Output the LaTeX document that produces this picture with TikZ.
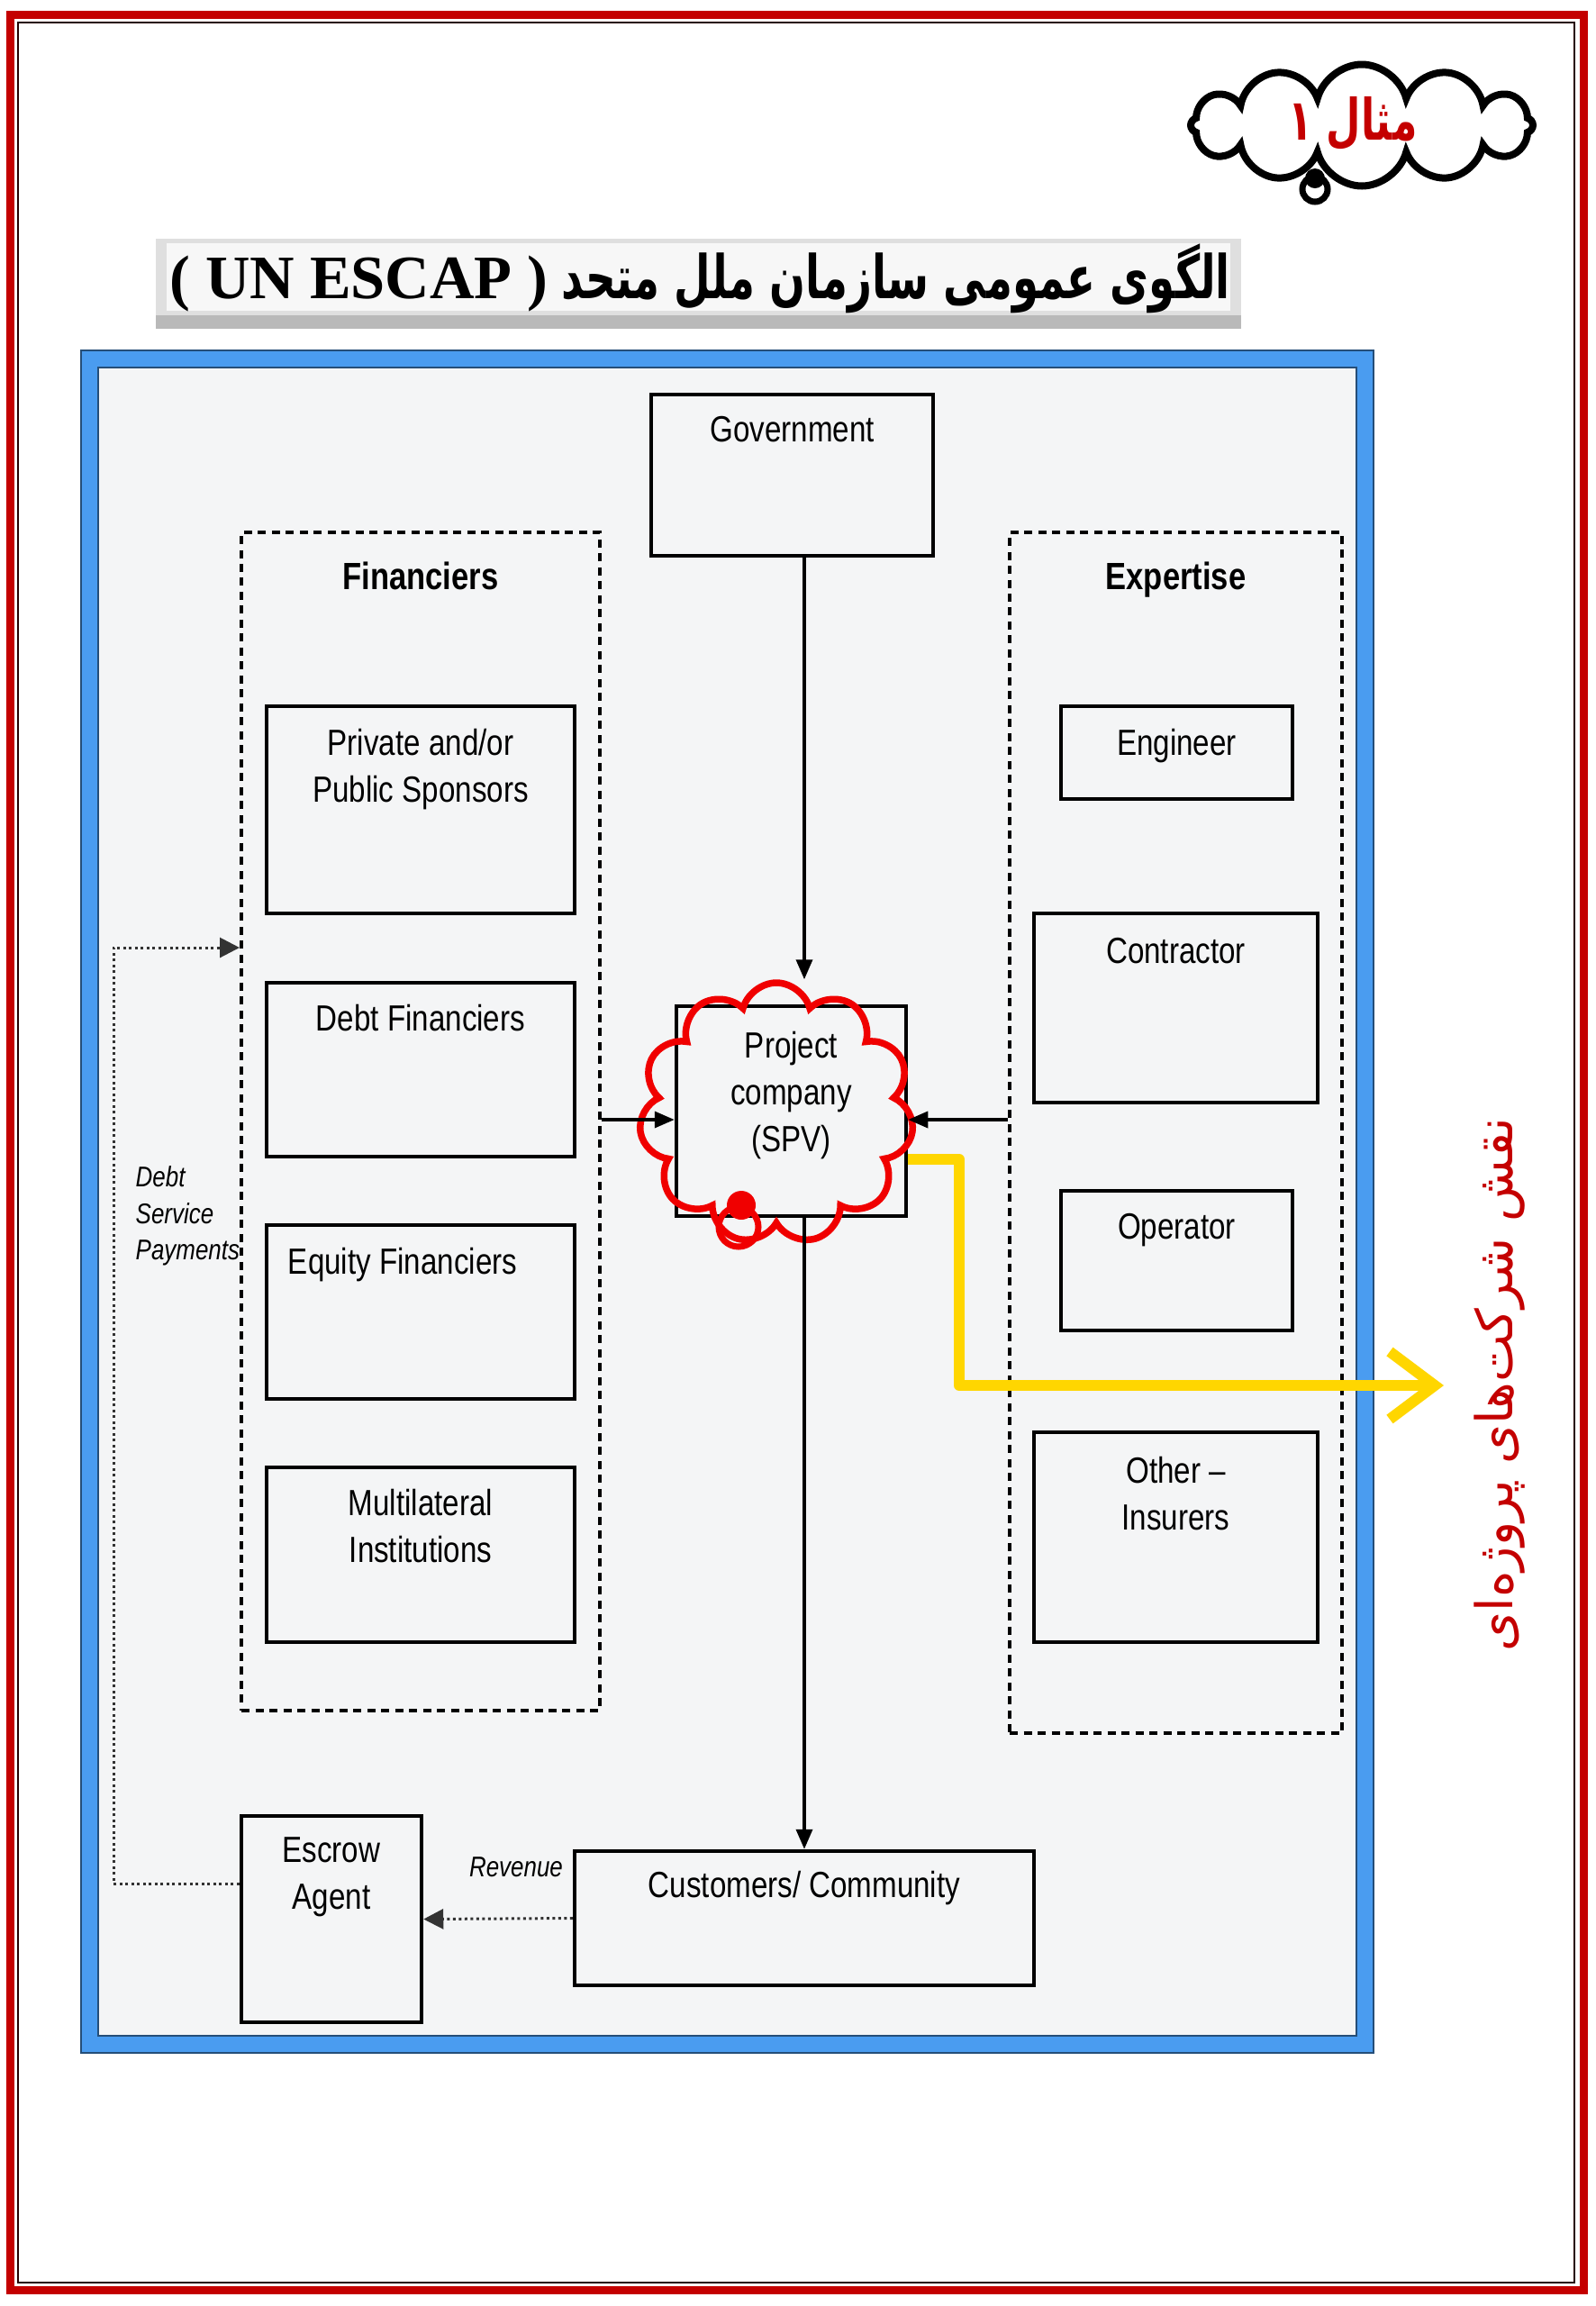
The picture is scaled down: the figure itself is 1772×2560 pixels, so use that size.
\documentclass[tikz,border=0pt]{standalone}
\usepackage{fontspec}
\setmainfont{Liberation Sans}[FakeStretch=0.82]
\newfontfamily\fafont{DejaVu Sans}[Script=Arabic]
\newfontfamily\fatitlefont{DejaVu Sans}[Script=Arabic,FakeStretch=0.7]
\newfontfamily\serifont{Liberation Serif}
\TeXXeTstate=1
\usetikzlibrary{arrows.meta,positioning,shapes.symbols}
\definecolor{framered}{RGB}{196,0,0}
\definecolor{frameblue}{RGB}{74,156,240}
\definecolor{paneltint}{RGB}{244,245,246}
\definecolor{goldline}{RGB}{255,214,0}
\definecolor{spvred}{RGB}{240,0,0}

\begin{document}
\begin{tikzpicture}[x=0.1mm,y=-0.1mm]
\tikzstyle{every node}=[inner sep=0pt, font=\fontsize{11.5}{14.8}\selectfont]
\tikzstyle{box}=[draw, line width=0.45mm]
\tikzstyle{group}=[draw, line width=0.4mm, dash pattern=on 0.9mm off 0.65mm]
\tikzstyle{head}=[font=\fontsize{12}{14}\selectfont\bfseries]
\tikzstyle{arr}=[line width=0.35mm, -{Triangle[length=2.2mm,width=1.8mm]}]
\tikzstyle{dots}=[line width=0.3mm, black!80, dash pattern=on 0.3mm off 0.35mm, -{Triangle[length=2.2mm,width=2.2mm]}]
\tikzstyle{note}=[font=\fontsize{9}{11.5}\selectfont\itshape]
\useasboundingbox (0,0) rectangle (1772,2560);
\fill[white] (0,0) rectangle (1772,2560);
\draw[framered, line width=0.9mm] (11.5,16.5) rectangle (1758,2542.5);
\draw[black!80!framered, line width=0.2mm] (20,25) rectangle (1748,2534);

\node (example) [cloud, draw, fill=white, line width=0.8mm, cloud puffs=12, aspect=2.7, minimum width=38mm, minimum height=13.5mm] at (1512,139) {};
\draw[line width=0.7mm] (1460,210) circle (1.4mm);
\fill (1460,198) circle (1.1mm);
\node (exlabel) [text=framered] at (1502,137) {\fatitlefont\bfseries\fontsize{18}{22}\selectfont\beginR مثال ۱\endR};

\fill[gray!55] (173,265) rectangle (1378,365);
\fill[gray!25] (173,265) rectangle (1378,350);
\fill[gray!6] (185,270) rectangle (1366,345);
\node (title) at (777,309) {{\serifont\bfseries\fontsize{19.5}{22}\selectfont ( UN ESCAP )}\hspace{1.5mm}{\fatitlefont\bfseries\fontsize{19}{24}\selectfont\beginR الگوی عمومی سازمان ملل متحد\endR}};

\draw[frameblue, line width=1.9mm, fill=paneltint] (99.5,398.5) rectangle (1515.5,2269.5);
\draw[frameblue!50!black, line width=0.15mm] (90,389) rectangle (1525,2279) (109,408) rectangle (1506,2260);

\node (gov) [box, minimum width=31.3mm, minimum height=17.9mm] at (879.5,527.5) {};
\node (govlabel) [below=2.6mm of gov.north] {Government};

\node (fin) [group, minimum width=39.8mm, minimum height=130.8mm] at (467,1245) {};
\node (finlabel) [head, below=3.4mm of fin.north] {Financiers};
\node (spons) [box, minimum width=34.2mm, minimum height=23mm] at (467,899) {};
\node (sponslabel) [align=center, below=2.7mm of spons.north] {Private and/or\\Public Sponsors};
\node (debt) [box, minimum width=34.2mm, minimum height=19.3mm] at (467,1187.5) {};
\node (debtlabel) [below=2.6mm of debt.north] {Debt Financiers};
\node (equity) [box, minimum width=34.2mm, minimum height=19.3mm] at (467,1456.5) {};
\node (equitylabel) [below=2.7mm of equity.north, xshift=-2mm] {Equity Financiers};
\node (multi) [box, minimum width=34.2mm, minimum height=19.4mm] at (467,1726) {};
\node (multilabel) [align=center, below=2.6mm of multi.north] {Multilateral\\Institutions};

\node (expert) [group, minimum width=36.9mm, minimum height=133.3mm] at (1305.5,1257.5) {};
\node (expertlabel) [head, below=3.4mm of expert.north] {Expertise};
\node (eng) [box, minimum width=25.7mm, minimum height=10.3mm] at (1306.5,835.5) {};
\node (englabel) [below=2.7mm of eng.north] {Engineer};
\node (contr) [box, minimum width=31.5mm, minimum height=21mm] at (1305.5,1119) {};
\node (contrlabel) [below=2.9mm of contr.north] {Contractor};
\node (oper) [box, minimum width=25.7mm, minimum height=15.5mm] at (1306.5,1399.5) {};
\node (operlabel) [below=2.7mm of oper.north] {Operator};
\node (insur) [box, minimum width=31.5mm, minimum height=23.3mm] at (1305.5,1706.5) {};
\node (insurlabel) [align=center, below=2.9mm of insur.north] {Other --\\Insurers};

\node (spv) [box, minimum width=25.5mm, minimum height=23.3mm] at (878.5,1233.5) {};
\node (spvlabel) [align=center, below=3mm of spv.north] {Project\\company\\(SPV)};

\node (cust) [box, minimum width=51mm, minimum height=14.9mm] at (893,2129.5) {};
\node (custlabel) [below=2.4mm of cust.north] {Customers/ Community};
\node (escrow) [box, minimum width=20mm, minimum height=22.9mm] at (368,2130.5) {};
\node (escrowlabel) [align=center, below=2.5mm of escrow.north] {Escrow\\Agent};

\node (revenue) [note] at (573,2073) {Revenue};
\node (service) [note, align=left, anchor=north west] at (150,1294) {Debt\\Service\\Payments};

\node (spvcloud) [cloud, draw=spvred, line width=0.75mm, cloud puffs=11, cloud ignores aspect, minimum width=30.5mm, minimum height=29mm] at (862,1236) {};
\draw[spvred, line width=0.7mm] (820,1362) circle (2.2mm);
\fill[spvred] (823,1338) circle (1.6mm);

\coordinate (lvl) at (0,1243);
\coordinate (dsa) at (126,2091);
\coordinate (dsb) at (126,1052);
\coordinate (bend) at (1065,1287);
\coordinate (drop) at (1065,1538);
\coordinate (tip) at (1603,1538);

\draw[arr] (gov.south -| cust.north) -- (spvcloud.north -| cust.north);
\draw[arr] (spv.south -| cust.north) -- (cust.north);
\draw[arr] (fin.east |- lvl) -- (spv.west |- lvl);
\draw[arr] (expert.west |- lvl) -- (spv.east |- lvl);
\draw[dots] (cust.west) -- (escrow.east);
\draw[dots] (escrow.west |- dsa) -- (dsa) -- (dsb) -- (fin.west |- dsb);

\draw[goldline, line width=1.2mm, line join=round, -{Straight Barb[length=5mm,width=7.5mm]}] (spv.east |- bend) -- (bend) -- (drop) -- (tip);

\node (role) [rotate=90, text=framered] at (1665,1537) {\fafont\fontsize{16}{20}\selectfont\beginR نقش شرکت^^^^200cهای پروژه^^^^200cای\endR};
\end{tikzpicture}
\end{document}
